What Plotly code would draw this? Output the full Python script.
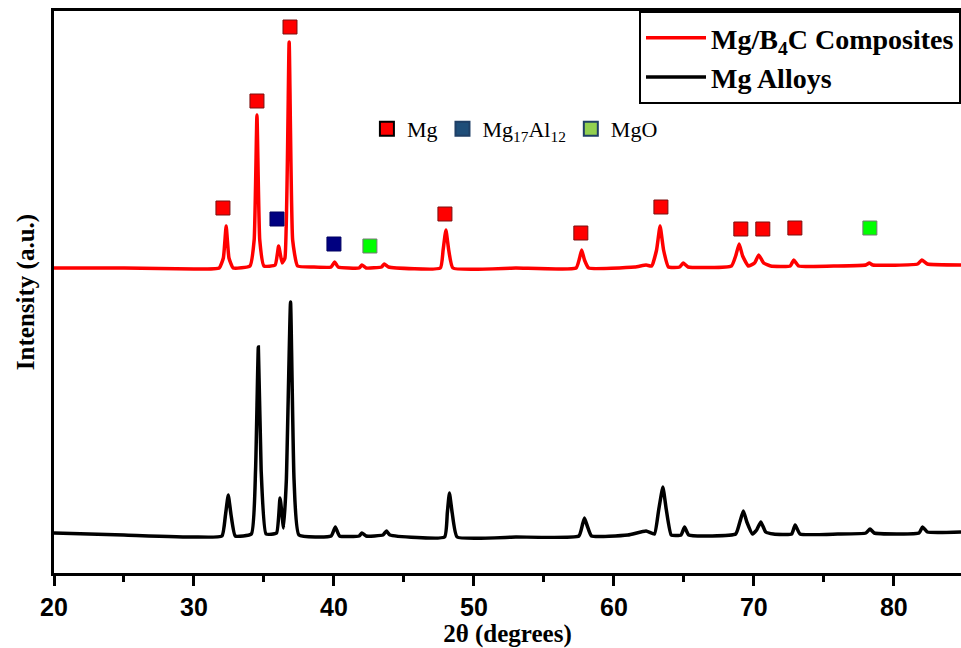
import plotly.graph_objects as go

# ---- data (2-theta in degrees, intensity in arbitrary units) ----
red_x = [20, 25, 30, 31.8, 32.1, 32.3, 32.5, 32.8, 34.0, 34.3, 34.5, 34.7, 35.0, 35.8, 36.05, 36.3,
         36.5, 36.8, 37.05, 37.4, 38.5, 39.8, 40.05, 40.3, 41.8, 42.0, 42.3, 43.4, 43.6, 43.9,
         47.6, 47.8, 48.0, 48.2, 48.5, 53, 57.3, 57.55, 57.7, 57.9, 58.2, 61.5, 62.3, 62.7,
         63.05, 63.3, 63.55, 63.9, 64.7, 64.95, 65.3, 68.4, 68.7, 68.95, 69.2, 69.6, 70.05,
         70.35, 70.7, 71.2, 72.6, 72.85, 73.2, 76.0, 78.0, 78.25, 78.5, 81.7, 82.0, 82.4, 84.8]
red_y = [305, 305, 304, 305, 315, 347, 315, 305, 307, 333, 458, 333, 307, 308, 327, 310,
         315, 531, 333, 307, 306, 306, 311, 306, 305, 308, 305, 306, 309, 306,
         305, 323, 343, 323, 305, 305, 305, 315, 323, 313, 305, 306, 308, 307,
         323, 347, 323, 306, 306, 310, 306, 307, 317, 329, 317, 307, 310,
         318, 310, 307, 307, 313, 307, 307, 308, 310, 308, 309, 313, 309, 308]

black_x = [20, 25, 30, 32.0, 32.25, 32.45, 32.65, 32.95, 34.1, 34.4, 34.6, 34.8, 35.15, 35.9,
           36.15, 36.4, 36.6, 36.9, 37.15, 37.5, 39.8, 40.1, 40.4, 41.8, 42.0, 42.3, 43.5,
           43.75, 44.0, 47.9, 48.1, 48.25, 48.45, 48.8, 53, 57.5, 57.75, 57.9, 58.1, 58.4,
           61.0, 62.3, 62.9, 63.2, 63.5, 63.75, 64.1, 64.8, 65.05, 65.35, 68.7, 69.0, 69.25,
           69.5, 69.9, 70.2, 70.5, 70.85, 71.4, 72.7, 72.95, 73.3, 76, 78.0, 78.3, 78.6,
           81.8, 82.05, 82.4, 84.8]
black_y = [40, 38, 36, 37, 58, 78, 58, 37, 39, 103, 226, 103, 39, 40,
           75, 45, 93, 271, 93, 38, 37, 46, 37, 37, 40, 37, 38,
           42, 38, 36, 60, 80, 60, 36, 36, 37, 48, 55, 47, 37,
           38, 42, 39, 63, 86, 63, 38, 38, 46, 38, 39, 51, 62,
           51, 39, 43, 51, 41, 39, 39, 48, 39, 39, 40, 44, 40,
           40, 46, 41, 41]

mg_x = [32.07, 34.5, 36.86, 47.93, 57.64, 63.36, 69.07, 70.64, 72.93]
mg_y = [365, 472, 546, 359, 340, 366, 344, 344, 345]
mgal_x = [35.93, 40.0]
mgal_y = [354, 329]
mgo_x = [42.57, 78.29]
mgo_y = [327, 345]

series_names = ["Mg/B<sub>4</sub>C Composites", "Mg Alloys"]
phase_names = ["Mg", "Mg<sub>17</sub>Al<sub>12</sub>", "MgO"]

x_ticks = [20, 30, 40, 50, 60, 70, 80]

SERIF = "Liberation Serif, Times New Roman, serif"
SANS = "Liberation Sans Narrow, Arial Narrow, Liberation Sans, Arial, sans-serif"

fig = go.Figure()
fig.add_trace(go.Scatter(x=red_x, y=red_y, mode="lines", name=series_names[0],
                         line=dict(color="#ff0000", width=3.5, shape="spline", smoothing=0.4)))
fig.add_trace(go.Scatter(x=black_x, y=black_y, mode="lines", name=series_names[1],
                         line=dict(color="#000000", width=3.5, shape="spline", smoothing=0.4)))

# phase markers on the chart
fig.add_trace(go.Scatter(x=mg_x, y=mg_y, mode="markers", showlegend=False,
                         marker=dict(symbol="square", size=14, color="#ff0000",
                                     line=dict(color="#7a1010", width=1))))
fig.add_trace(go.Scatter(x=mgal_x, y=mgal_y, mode="markers", showlegend=False,
                         marker=dict(symbol="square", size=14, color="#000080",
                                     line=dict(color="#000060", width=1))))
fig.add_trace(go.Scatter(x=mgo_x, y=mgo_y, mode="markers", showlegend=False,
                         marker=dict(symbol="square", size=14, color="#00ff00",
                                     line=dict(color="#777777", width=1))))

# phase legend entries
leg_colors = ["#ff0000", "#1f4e79", "#92d050"]
leg_lines = ["#000000", "#1f3f66", "#1f3f66"]
for nm, c, lc in zip(phase_names, leg_colors, leg_lines):
    fig.add_trace(go.Scatter(x=[None], y=[None], mode="markers", name=nm, legend="legend2",
                             marker=dict(symbol="square", size=14, color=c,
                                         line=dict(color=lc, width=2))))

fig.update_layout(
    width=961, height=648,
    margin=dict(l=54, r=0, t=11, b=75),
    paper_bgcolor="white", plot_bgcolor="white",
    showlegend=True,
    legend=dict(x=1, xanchor="right", y=1, yanchor="top",
                bordercolor="black", borderwidth=2, bgcolor="white",
                font=dict(family=SERIF, size=28, color="black", weight="bold"),
                tracegroupgap=0, itemwidth=60),
    legend2=dict(x=0.345, xanchor="left", y=0.79, yanchor="middle", orientation="h",
                 bgcolor="rgba(0,0,0,0)",
                 font=dict(family=SERIF, size=22, color="black")),
    xaxis=dict(range=[20, 84.8], tickvals=x_ticks, ticktext=[str(t) for t in x_ticks],
               showline=True, linecolor="black", linewidth=3, mirror=True,
               ticks="outside", ticklen=10, tickwidth=3, tickcolor="black",
               minor=dict(dtick=5, tick0=20, ticks="outside", ticklen=6, tickwidth=3,
                          tickcolor="black"),
               showgrid=False, zeroline=False,
               tickfont=dict(family=SANS, size=25, color="black", weight="bold"),
               title=dict(text="2θ (degrees)", standoff=2,
                          font=dict(family=SERIF, size=25, color="black", weight="bold"))),
    yaxis=dict(range=[0, 562], showline=True, linecolor="black", linewidth=3,
               showticklabels=False, ticks="", showgrid=False, zeroline=False,
               title=dict(text="Intensity (a.u.)", standoff=10,
                          font=dict(family=SERIF, size=25, color="black", weight="bold"))),
)

fig.write_html("out.html")
